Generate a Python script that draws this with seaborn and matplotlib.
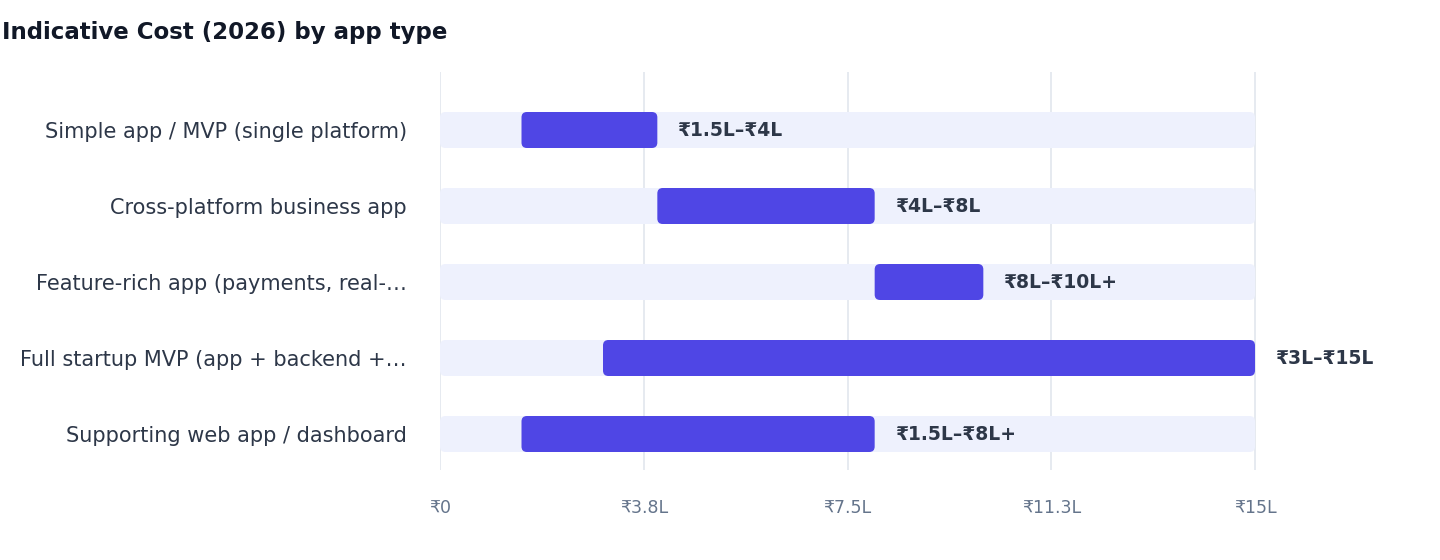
import matplotlib
matplotlib.use("Agg")
import matplotlib.pyplot as plt
import seaborn as sns
import pandas as pd
from matplotlib.patches import FancyBboxPatch

categories = ["Simple app / MVP (single platform)", "Cross-platform business app",
              "Feature-rich app (payments, real-…", "Full startup MVP (app + backend +…",
              "Supporting web app / dashboard"]
low = [1.5, 4, 8, 3, 1.5]
high = [4, 8, 10, 15, 8]
range_labels = ["₹1.5L–₹4L", "₹4L–₹8L", "₹8L–₹10L+", "₹3L–₹15L", "₹1.5L–₹8L+"]
track_max = [15, 15, 15, 15, 15]
tick_vals = [0, 3.75, 7.5, 11.25, 15]
tick_labels = ["₹0", "₹3.8L", "₹7.5L", "₹11.3L", "₹15L"]

sns.set_theme(style="white")
plt.rcParams['font.family'] = ['DejaVu Sans']
fig = plt.figure(figsize=(14.4, 5.6), dpi=100)
W, H = 1440, 560
ax = fig.add_axes([440/W, 1-470/H, (1418-440)/W, (470-72)/H])

df = pd.DataFrame({"cat": categories, "max": track_max, "low": low, "high": high})
sns.barplot(data=df, y="cat", x="max", color="#EEF1FD", width=36/76, ax=ax, saturation=1, zorder=2)
ax.barh(range(len(categories)), [h - l for l, h in zip(low, high)], left=low,
        height=36/76, color="#4F46E5", zorder=3)

asp = (1/76) / (1/54.33)
for p in list(ax.patches):
    x, y, w, h = p.get_x(), p.get_y(), p.get_width(), p.get_height()
    fb = FancyBboxPatch((x, y), w, h, boxstyle="round,pad=0,rounding_size=0.1",
                        mutation_aspect=asp, facecolor=p.get_facecolor(),
                        edgecolor="none", zorder=p.get_zorder())
    p.remove()
    ax.add_patch(fb)

for i, (h, lab) in enumerate(zip(high, range_labels)):
    ax.text(h + 0.37, i, lab, va="center", ha="left", fontsize=13.5,
            fontweight="bold", color="#2D3748", zorder=4)

ax.set_xlim(0, 18)
ax.set_ylim(4 + 36/76, -58/76)
ax.set_xticks(tick_vals)
ax.set_xticklabels(tick_labels, fontsize=12.5, color="#64748B")
ax.tick_params(axis="x", length=7, color="#D5DAE3", pad=14)
ax.tick_params(axis="y", length=0, pad=24, labelsize=15, labelcolor="#2D3748")
ax.set_xlabel("")
ax.set_ylabel("")
for v in tick_vals:
    ax.axvline(v, color="#E2E6EE", lw=1.2, zorder=1)
for s in ax.spines.values():
    s.set_visible(False)
ax.xaxis.grid(False)

fig.text(2/W, 1-32/H, "Indicative Cost (2026) by app type", fontsize=16.5,
         fontweight="bold", color="#111827", va="center", ha="left")
fig.savefig("out.png", dpi=100)
